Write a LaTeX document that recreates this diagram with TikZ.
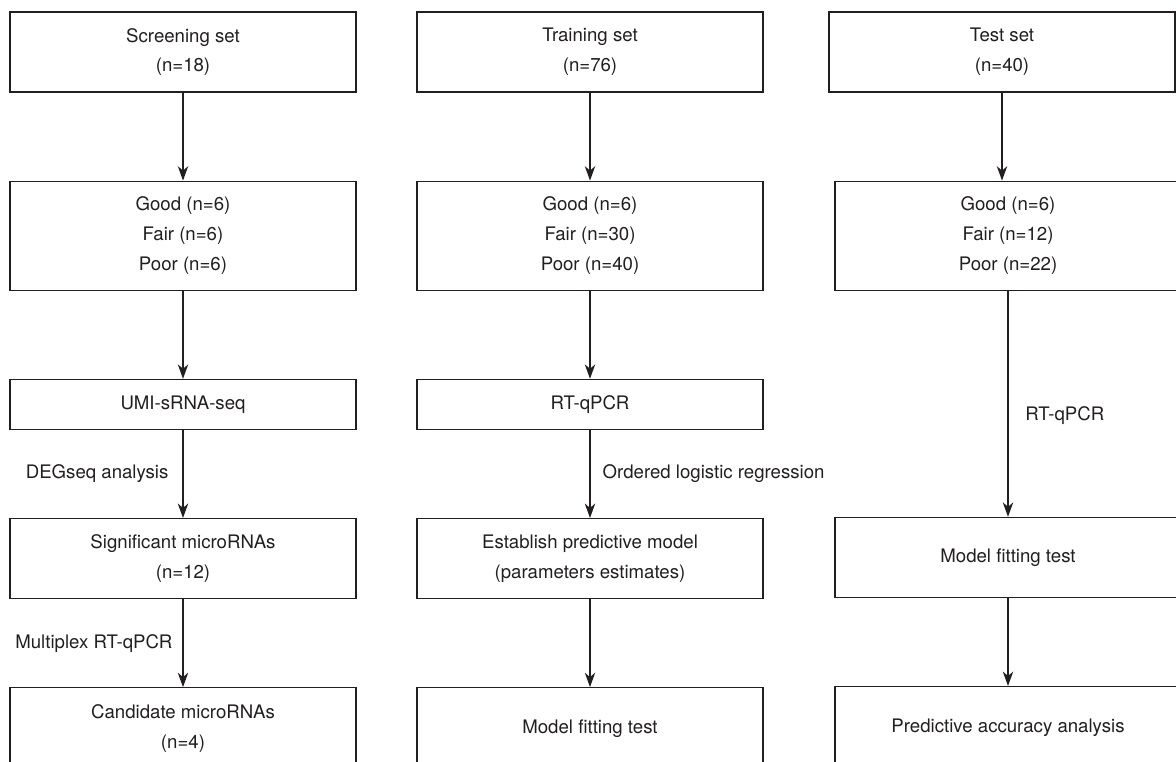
\documentclass[tikz,border=0pt]{standalone}
\usepackage{fontspec}
\setmainfont{TeX Gyre Heros}
\usepackage{xcolor}
\usepackage{tikz}
\usetikzlibrary{positioning,arrows.meta}
\definecolor{ink}{HTML}{231F20}
\tikzset{
    flowbox/.style={
        rectangle, draw=ink, text=ink, fill=white,
        minimum width=8.65cm, minimum height=2cm,
        align=center, font=\fontsize{13.25}{21.3}\selectfont,
        line width=0.8pt
    },
    steplabel/.style={
        text=ink, font=\fontsize{13.25}{21.3}\selectfont, inner sep=2pt
    },
    flow/.style={
        draw=ink, line width=0.8pt,
        -{Stealth[length=3.6mm, width=2.6mm, inset=1.1mm]}
    }
}

\begin{document}
\begin{tikzpicture}[x=0.025cm, y=0.025cm, node distance=2.2cm]
    \clip (0,0) rectangle (1176,-762);

    \node[flowbox] (scr) at (183,-52) {Screening set\\(n=18)};
    \node[flowbox, minimum height=2.725cm, below=of scr] (good1) {Good (n=6)\\Fair (n=6)\\Poor (n=6)};
    \node[flowbox, minimum height=1.25cm, below=of good1] (umi) {UMI-sRNA-seq};
    \node[flowbox, below=of umi] (sig) {Significant microRNAs\\(n=12)};
    \node[flowbox, minimum height=2.05cm, below=of sig] (cand) {Candidate microRNAs\\(n=4)};

    \node[flowbox] (trn) at (590,-52) {Training set\\(n=76)};
    \node[flowbox, minimum height=2.725cm, below=of trn] (good2) {Good (n=6)\\Fair (n=30)\\Poor (n=40)};
    \node[flowbox, minimum height=1.25cm, below=of good2] (rtq) {RT-qPCR};
    \node[flowbox, below=of rtq] (est) {Establish predictive model\\(parameters estimates)};
    \node[flowbox, minimum height=2.05cm, below=of est] (mft2) {Model fitting test};

    \node[flowbox] (tst) at (1002,-52) {Test set\\(n=40)};
    \node[flowbox, minimum height=2.725cm, below=of tst, xshift=0.15cm] (good3) {Good (n=6)\\Fair (n=12)\\Poor (n=22)};
    \node[flowbox, minimum height=2cm, below=5.65cm of good3] (mft3) {Model fitting test};
    \node[flowbox, minimum height=2.05cm, below=of mft3] (pred) {Predictive accuracy analysis};

    \draw[flow] (scr) -- (good1);
    \draw[flow] (good1) -- (umi);
    \draw[flow] (umi) -- node[steplabel, left=2.8mm] {DEGseq analysis} (sig);
    \draw[flow] (sig) -- node[steplabel, left=1.8mm] {Multiplex RT-qPCR} (cand);

    \draw[flow] (trn) -- (good2);
    \draw[flow] (good2) -- (rtq);
    \draw[flow] (rtq) -- node[steplabel, right=2.3mm] {Ordered logistic regression} (est);
    \draw[flow] (est) -- (mft2);

    \draw[flow] (tst.south) -- (tst.south |- good3.north);
    \draw[flow] (good3) -- node[steplabel, pos=0.55, right=3.5mm] {RT-qPCR} (mft3);
    \draw[flow] (mft3) -- (pred);
\end{tikzpicture}
\end{document}
